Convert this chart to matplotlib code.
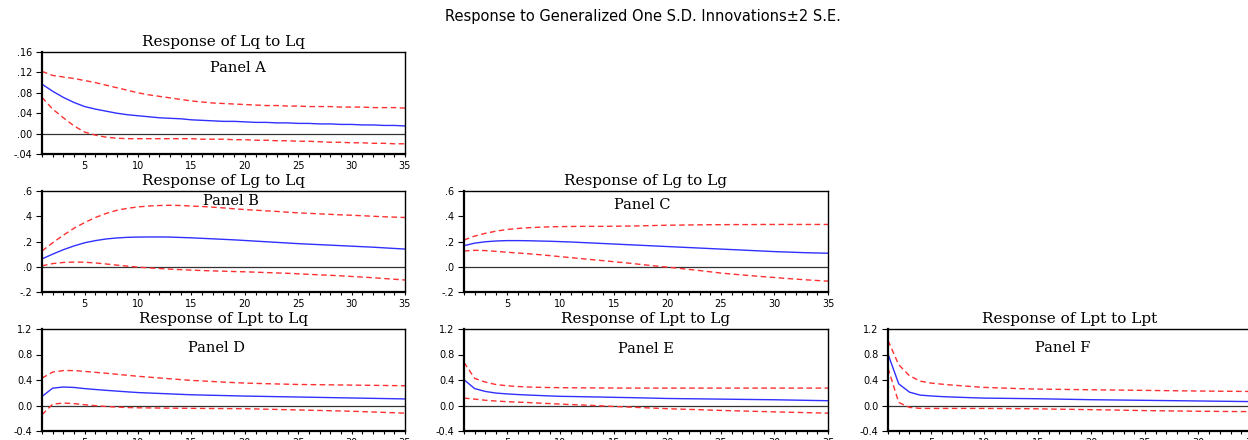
import numpy as np
import matplotlib.pyplot as plt

# periods 1..35
periods = np.arange(1, 36)

# Panel A: Response of Lq to Lq
a_resp = [.097, .083, .071, .061, .053, .048, .044, .040, .037, .035, .033, .031, .030, .029, .027,
          .026, .025, .024, .024, .023, .022, .022, .021, .021, .020, .020, .019, .019, .018, .018,
          .017, .017, .016, .016, .015]
a_up = [.122, .114, .111, .108, .104, .100, .095, .090, .085, .080, .076, .073, .070, .067, .064,
        .062, .060, .059, .058, .057, .056, .055, .055, .054, .054, .053, .053, .053, .052, .052,
        .052, .051, .051, .051, .050]
a_lo = [.071, .048, .031, .015, .003, -.003, -.007, -.009, -.010, -.010, -.010, -.010, -.010, -.010, -.010,
        -.011, -.011, -.011, -.012, -.012, -.013, -.013, -.014, -.014, -.015, -.015, -.016, -.017, -.017, -.018,
        -.018, -.019, -.019, -.020, -.020]

# Panel B: Response of Lg to Lq
b_resp = [.062, .100, .135, .165, .190, .207, .220, .228, .233, .235, .236, .236, .235, .232, .229,
          .225, .221, .217, .213, .208, .203, .198, .193, .188, .183, .179, .175, .171, .167, .163,
          .159, .155, .150, .145, .140]
b_up = [.125, .190, .250, .305, .350, .390, .422, .447, .463, .474, .481, .485, .487, .485, .481,
        .477, .472, .466, .459, .453, .448, .443, .438, .432, .427, .423, .419, .415, .411, .408,
        .404, .400, .396, .393, .390]
b_lo = [.007, .025, .034, .037, .036, .030, .022, .013, .005, -.003, -.009, -.014, -.019, -.023, -.027,
        -.030, -.033, -.035, -.038, -.040, -.043, -.046, -.049, -.052, -.056, -.060, -.064, -.068, -.072, -.077,
        -.082, -.087, -.093, -.099, -.105]

# Panel C: Response of Lg to Lg
c_resp = [.167, .187, .198, .204, .207, .207, .206, .204, .202, .199, .196, .192, .188, .184, .180,
          .176, .172, .168, .164, .160, .156, .152, .148, .144, .140, .136, .132, .128, .124, .120,
          .117, .114, .111, .109, .107]
c_up = [.212, .243, .265, .282, .295, .303, .309, .313, .316, .318, .319, .320, .320, .320, .321,
        .322, .323, .325, .327, .329, .330, .331, .332, .333, .333, .334, .334, .334, .335, .335,
        .335, .335, .335, .335, .335]
c_lo = [.125, .130, .128, .122, .115, .109, .103, .096, .088, .080, .072, .064, .056, .048, .040,
        .032, .023, .014, .005, -.003, -.012, -.021, -.030, -.040, -.050, -.058, -.065, -.072, -.079, -.085,
        -.092, -.098, -.104, -.109, -.114]

# Panel D: Response of Lpt to Lq
d_resp = [.142, .272, .290, .283, .265, .251, .238, .226, .214, .203, .196, .189, .182, .175, .168,
          .164, .160, .156, .152, .148, .145, .142, .139, .136, .133, .130, .127, .124, .121, .118,
          .115, .112, .109, .106, .103]
d_up = [.430, .525, .548, .548, .535, .520, .506, .490, .474, .458, .445, .432, .419, .406, .394,
        .385, .376, .367, .359, .352, .347, .342, .338, .334, .330, .328, .326, .324, .322, .320,
        .318, .316, .314, .312, .310]
d_lo = [-.145, .022, .038, .030, .012, -.003, -.015, -.025, -.032, -.036, -.038, -.040, -.042, -.043, -.045,
        -.046, -.047, -.048, -.049, -.050, -.054, -.058, -.062, -.066, -.070, -.074, -.078, -.082, -.086, -.090,
        -.096, -.102, -.108, -.114, -.120]

# Panel E: Response of Lpt to Lg
e_resp = [.404, .265, .220, .195, .182, .172, .164, .157, .150, .144, .141, .138, .135, .132, .128,
          .125, .122, .118, .114, .110, .108, .106, .104, .102, .100, .098, .096, .094, .092, .090,
          .087, .084, .081, .078, .075]
e_up = [.676, .425, .367, .328, .310, .298, .290, .285, .282, .280, .278, .277, .276, .275, .274,
        .273, .273, .273, .273, .273, .273, .273, .273, .273, .273, .273, .273, .273, .273, .273,
        .273, .273, .273, .273, .273]
e_lo = [.116, .100, .082, .070, .060, .053, .046, .038, .030, .022, .015, .008, .001, -.007, -.015,
        -.022, -.029, -.036, -.043, -.050, -.056, -.061, -.066, -.072, -.077, -.082, -.086, -.091, -.095, -.100,
        -.104, -.108, -.112, -.116, -.120]

# Panel F: Response of Lpt to Lpt
f_resp = [.807, .340, .210, .163, .150, .140, .133, .127, .121, .116, .114, .112, .110, .108, .106,
          .103, .100, .097, .094, .091, .089, .087, .085, .083, .081, .079, .077, .075, .073, .071,
          .069, .067, .065, .063, .061]
f_up = [1.020, .640, .467, .383, .352, .335, .320, .308, .295, .284, .278, .272, .266, .261, .257,
        .255, .253, .251, .249, .247, .245, .243, .241, .239, .237, .235, .233, .231, .229, .227,
        .226, .224, .223, .221, .220]
f_lo = [.587, .048, -.030, -.045, -.046, -.046, -.046, -.046, -.046, -.046, -.047, -.048, -.049, -.050, -.052,
        -.055, -.058, -.060, -.063, -.065, -.068, -.071, -.074, -.077, -.080, -.082, -.084, -.086, -.088, -.090,
        -.091, -.093, -.094, -.095, -.096]

titles = ["Response of Lq to Lq", "Response of Lg to Lq", "Response of Lg to Lg",
          "Response of Lpt to Lq", "Response of Lpt to Lg", "Response of Lpt to Lpt"]
panel_names = ["Panel A", "Panel B", "Panel C", "Panel D", "Panel E", "Panel F"]

yt_a = [-.04, .00, .04, .08, .12, .16]
yl_a = ["-.04", ".00", ".04", ".08", ".12", ".16"]
yt_b = [-.2, .0, .2, .4, .6]
yl_b = ["-.2", ".0", ".2", ".4", ".6"]
yt_d = [-.4, .0, .4, .8, 1.2]
yl_d = ["-0.4", "0.0", "0.4", "0.8", "1.2"]
xt = [5, 10, 15, 20, 25, 30, 35]

panels = [
    (a_resp, a_up, a_lo, yt_a, yl_a),
    (b_resp, b_up, b_lo, yt_b, yl_b),
    (c_resp, c_up, c_lo, yt_b, yl_b),
    (d_resp, d_up, d_lo, yt_d, yl_d),
    (e_resp, e_up, e_lo, yt_d, yl_d),
    (f_resp, f_up, f_lo, yt_d, yl_d),
]

# axes boxes in pixels: left, top, right, bottom
W, H = 1248, 440
boxes = [(42, 52, 405, 154), (42, 191, 405, 292), (464, 191, 828, 292),
         (42, 329, 405, 431), (464, 329, 828, 431), (888, 329, 1252, 431)]
label_pos = [(0.54, 0.84), (0.52, 0.90), (0.49, 0.86), (0.48, 0.81), (0.50, 0.80), (0.48, 0.81)]

fig = plt.figure(figsize=(W / 100, H / 100), dpi=100, facecolor="white")
fig.text(643 / W, 1 - 16 / H, "Response to Generalized One S.D. Innovations\u00b12 S.E.",
         ha="center", va="center", fontsize=10.5, family="DejaVu Sans")

for i, (resp, up, lo, yt, yl) in enumerate(panels):
    l, t, r, b = boxes[i]
    ax = fig.add_axes([l / W, 1 - b / H, (r - l) / W, (b - t) / H])
    ax.axhline(0, color="#333333", lw=0.9)
    ax.plot(periods, resp, color="#3030ff", lw=1.0)
    ax.plot(periods, up, color="#ff3030", lw=1.0, ls=(0, (4, 2.5)))
    ax.plot(periods, lo, color="#ff3030", lw=1.0, ls=(0, (4, 2.5)))
    ax.set_xlim(1, 35)
    ax.set_ylim(yt[0], yt[-1])
    ax.set_xticks(xt)
    ax.set_xticks(periods, minor=True)
    ax.set_yticks(yt)
    ax.set_yticklabels(yl)
    ax.tick_params(axis="x", direction="out", length=2, width=0.8, labelsize=7, pad=3)
    ax.tick_params(axis="x", which="minor", direction="out", length=2, width=0.8)
    ax.tick_params(axis="y", direction="out", length=4, width=0.8, labelsize=7, pad=3)
    for s in ax.spines.values():
        s.set_linewidth(1.0)
    ax.spines["left"].set_linewidth(1.6)
    ax.spines["bottom"].set_linewidth(1.6)
    ax.set_title(titles[i], fontsize=11, family="DejaVu Serif", pad=4)
    ax.text(label_pos[i][0], label_pos[i][1], panel_names[i], transform=ax.transAxes,
            ha="center", va="center", fontsize=10.5, family="DejaVu Serif")

fig.savefig("out.png", dpi=100, facecolor="white")
